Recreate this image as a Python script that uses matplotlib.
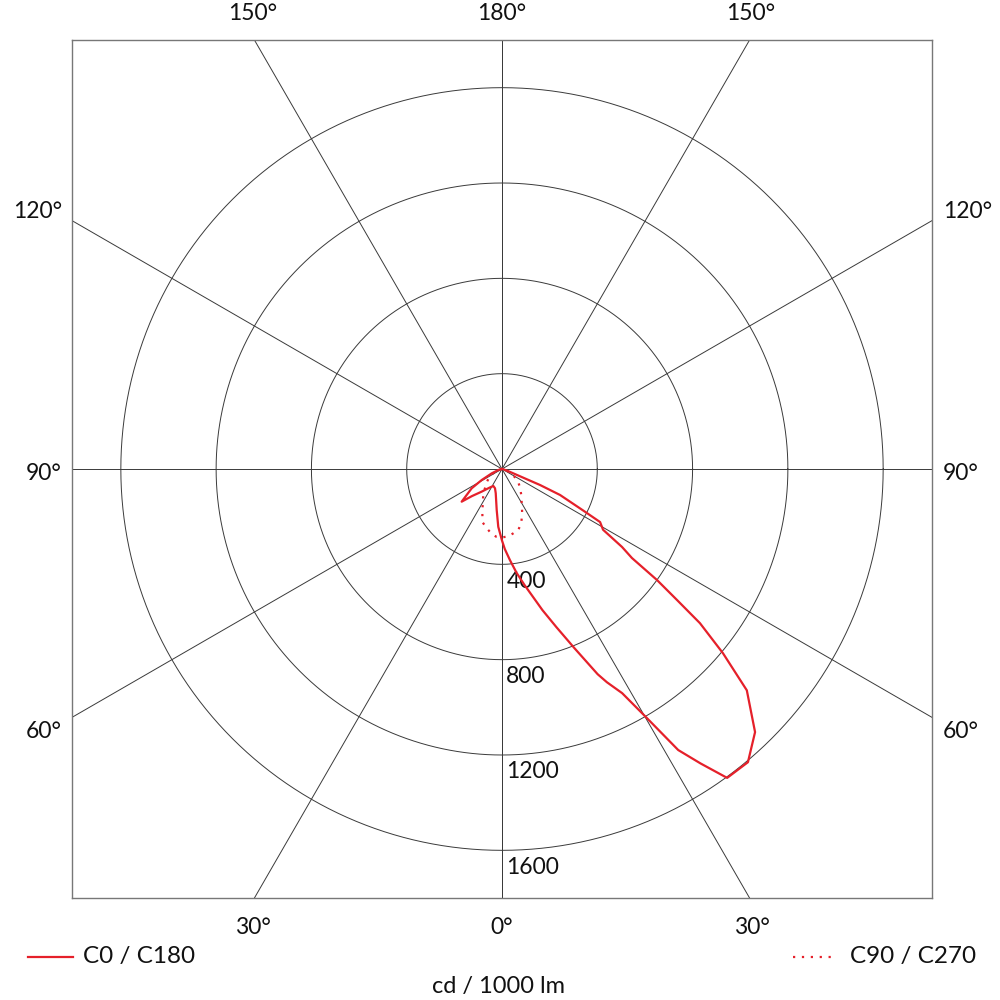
import numpy as np
import matplotlib
matplotlib.use("Agg")
import matplotlib.pyplot as plt
from matplotlib.lines import Line2D

plt.rcParams['font.family'] = ['Lato', 'DejaVu Sans']

# ---- data (gamma angle in degrees, intensity in cd/1000 lm) ----
c0_gamma = [0, 2, 5, 8, 11, 16, 19, 22, 25, 26.2, 28.2, 30.2, 32.1, 34, 36.1, 40, 43.9,
            47.9, 50.2, 52.1, 53.2, 54.4, 55.6, 57, 59, 61.6, 62.8, 65.9, 67.2, 68, 70, 80, 90]
c0_int = [300, 336, 384, 440, 496, 616, 702, 810, 950, 997, 1067, 1209, 1392, 1490, 1604, 1606, 1532,
          1385, 1207, 1053, 917, 800, 661, 601, 495, 468, 390, 267, 173, 83, 36, 5, 0]

c180_gamma = [0, 3.7, 7.4, 14.5, 20, 27, 33, 42, 48, 51, 57.5, 61.5, 67, 75, 90]
c180_int = [300, 243, 173, 105, 86, 80, 92, 128, 170, 218, 151, 97, 47, 15, 0]

c90_gamma = [0, 5, 10, 15, 20, 25, 30, 35, 40, 45, 50, 55, 60, 65, 70, 80, 90]
c90_int = [287, 284, 274, 265, 238, 200, 165, 143, 122, 106, 90, 75, 55, 38, 25, 8, 0]
c270_int = [287, 285, 272, 255, 238, 196, 160, 138, 115, 95, 82, 68, 55, 40, 25, 8, 0]

ring_values = [400, 800, 1200, 1600]
spoke_angles = [0, 30, 60, 90, 120, 150, 180]

RED = '#e5202a'
GRID = '#3a3a3a'

fig = plt.figure(figsize=(10, 10), dpi=100)
ax = fig.add_axes([0.072, 0.102, 0.86, 0.858])
R = 1805
ax.set_xlim(-R, R)
ax.set_ylim(-1800, 1800)
ax.set_aspect('auto')
ax.set_xticks([])
ax.set_yticks([])
for s in ax.spines.values():
    s.set_color('#777777')
    s.set_linewidth(1.0)

# spokes
L = 4000
for a in spoke_angles:
    t = np.radians(a)
    ax.plot([-L * np.sin(t), L * np.sin(t)], [-L * np.cos(t), L * np.cos(t)],
            color=GRID, lw=0.7, zorder=1)
# rings
th = np.linspace(0, 2 * np.pi, 721)
for r in ring_values:
    ax.plot(r * np.cos(th), r * np.sin(th), color=GRID, lw=0.7, zorder=1)
    ax.text(18, -r - 70, str(r), ha='left', va='center', fontsize=16.5, color='#111111', zorder=3)

def to_xy(g, I, side):
    g = np.radians(np.asarray(g, float))
    I = np.asarray(I, float)
    return side * I * np.sin(g), -I * np.cos(g)

# C0 / C180 solid
xl, yl = to_xy(c180_gamma, c180_int, -1)
xr, yr = to_xy(c0_gamma, c0_int, 1)
ax.plot(np.concatenate([xl[::-1], xr]), np.concatenate([yl[::-1], yr]),
        color=RED, lw=1.6, zorder=4, solid_joinstyle='round')

# C90 / C270 dotted
xl, yl = to_xy(c90_gamma, c270_int, -1)
xr, yr = to_xy(c90_gamma, c90_int, 1)
ax.plot(np.concatenate([xl[::-1], xr]), np.concatenate([yl[::-1], yr]),
        color=RED, lw=1.6, linestyle=(0, (1, 3)), zorder=4)

# angle labels (figure coords in pixels -> fraction)
def ftext(x, y, s, ha='center', size=16.5):
    fig.text(x / 1000, 1 - y / 1000, s, ha=ha, va='center', fontsize=size, color='#111111')

ftext(502, 14, '180°')
ftext(253, 14, '150°')
ftext(751, 14, '150°')
ftext(62, 211, '120°', ha='right')
ftext(943, 211, '120°', ha='left')
ftext(62, 474, '90°', ha='right')
ftext(943, 474, '90°', ha='left')
ftext(62, 732, '60°', ha='right')
ftext(943, 732, '60°', ha='left')
ftext(253, 928, '30°')
ftext(502, 928, '0°')
ftext(752, 928, '30°')

# legend
fig.add_artist(Line2D([28 / 1000, 73 / 1000], [1 - 957 / 1000] * 2, color=RED, lw=1.6))
ftext(83, 957, 'C0 / C180', ha='left', size=17.5)
fig.add_artist(Line2D([793 / 1000, 833 / 1000], [1 - 957 / 1000] * 2, color=RED, lw=1.6,
                      linestyle=(0, (1, 3))))
ftext(850, 957, 'C90 / C270', ha='left', size=17.5)
ftext(498, 986, 'cd / 1000 lm', size=17)

fig.savefig('out.png', dpi=100)
